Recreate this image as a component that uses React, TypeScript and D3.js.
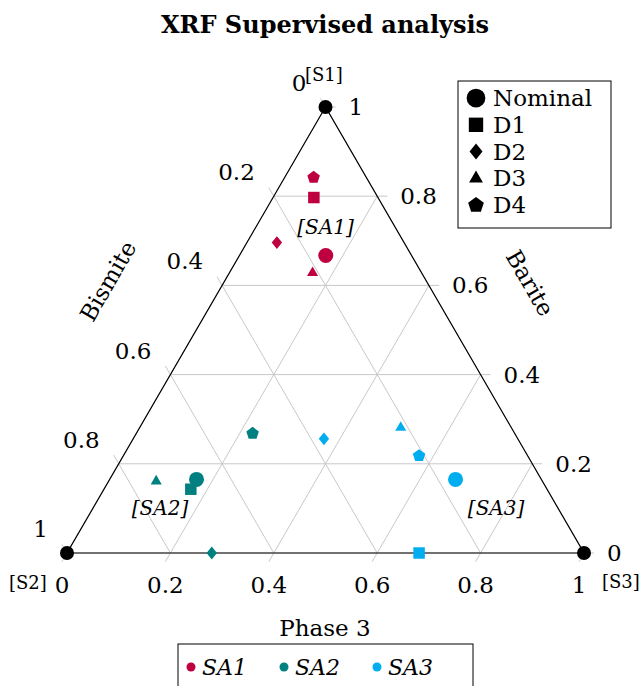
import React from "react";
import * as d3 from "d3";

const W = 644;
const H = 686;

// Samples and their colours
const sampleLabels = ["SA1", "SA2", "SA3"];
const sampleColors = ["#BF0040", "#008080", "#00AEEF"];

// Variants: Nominal, D1, D2, D3, D4
const variantLabels = ["Nominal", "D1", "D2", "D3", "D4"];

// Composition fractions per variant (Nominal, D1, D2, D3, D4)
const sa1Barite = [0.667, 0.797, 0.696, 0.628, 0.842];
const sa1Bismite = [0.166, 0.124, 0.246, 0.211, 0.102];
const sa1Phase3 = [0.167, 0.079, 0.058, 0.161, 0.056];

const sa2Barite = [0.165, 0.143, 0.0, 0.161, 0.268];
const sa2Bismite = [0.667, 0.689, 0.72, 0.747, 0.507];
const sa2Phase3 = [0.168, 0.168, 0.28, 0.092, 0.225];

const sa3Barite = [0.165, 0.0, 0.256, 0.281, 0.218];
const sa3Bismite = [0.166, 0.319, 0.375, 0.214, 0.21];
const sa3Phase3 = [0.669, 0.681, 0.369, 0.505, 0.572];

// Region labels, placed by composition (barite, bismite, phase 3)
const regionText = ["[SA1]", "[SA2]", "[SA3]"];
const regionBarite = [0.73, 0.1, 0.1];
const regionBismite = [0.135, 0.77, 0.12];
const regionPhase3 = [0.135, 0.13, 0.78];

const tickValues = [0, 0.2, 0.4, 0.6, 0.8, 1];
const tickLabels = ["0", "0.2", "0.4", "0.6", "0.8", "1"];

const FONT = "'DejaVu Serif', serif";
const GRID = "#c8c8c8";

const xScale = d3.scaleLinear().domain([0, 1]).range([67, 584]);
const yScale = d3.scaleLinear().domain([0, 1]).range([553, 107]);

function project(barite: number, bismite: number, phase3: number): [number, number] {
  const s = barite + bismite + phase3;
  const a = barite / s;
  const c = phase3 / s;
  return [xScale(c + a / 2), yScale(a)];
}

function markerPath(kind: number, scale: number): string {
  if (kind === 0) {
    const r = 7.5 * scale;
    return d3.symbol(d3.symbolCircle, Math.PI * r * r)() as string;
  }
  if (kind === 1) {
    const s = 11.5 * scale;
    return d3.symbol(d3.symbolSquare, s * s)() as string;
  }
  if (kind === 2) {
    const w = 5.2 * scale;
    const h = 6.4 * scale;
    return `M0,${-h}L${w},0L0,${h}L${-w},0Z`;
  }
  if (kind === 3) {
    const r = 6.4 * scale;
    return d3.line()([
      [0, -r],
      [r * 0.866, r * 0.5],
      [-r * 0.866, r * 0.5],
    ]) + "Z";
  }
  const r = 6.6 * scale;
  const pts: [number, number][] = d3.range(5).map((k) => {
    const ang = (-90 + 72 * k) * (Math.PI / 180);
    return [r * Math.cos(ang), r * Math.sin(ang)];
  });
  return d3.line()(pts) + "Z";
}

const TICK = 10;

export default function App() {
  const series = [
    { b: sa1Barite, m: sa1Bismite, p: sa1Phase3 },
    { b: sa2Barite, m: sa2Bismite, p: sa2Phase3 },
    { b: sa3Barite, m: sa3Bismite, p: sa3Phase3 },
  ];

  const top = project(1, 0, 0);
  const bl = project(0, 1, 0);
  const br = project(0, 0, 1);

  const lines: JSX.Element[] = [];
  tickValues.forEach((v, i) => {
    // Barite = v : horizontal, tick to the right
    {
      const [x1, y1] = project(v, 1 - v, 0);
      const [x2, y2] = project(v, 0, 1 - v);
      lines.push(
        <line key={`ba${i}`} x1={x1} y1={y1} x2={x2 + TICK} y2={y2} stroke={GRID} strokeWidth={1} />
      );
    }
    // Phase 3 = v : parallel to left edge, tick down-left at the bottom
    {
      const [x1, y1] = project(0, 1 - v, v);
      const [x2, y2] = project(1 - v, 0, v);
      lines.push(
        <line key={`ph${i}`} x1={x1 - TICK * 0.5} y1={y1 + TICK * 0.866} x2={x2} y2={y2} stroke={GRID} strokeWidth={1} />
      );
    }
    // Bismite = v : parallel to right edge, tick up-left on the left edge
    {
      const [x1, y1] = project(1 - v, v, 0);
      const [x2, y2] = project(0, v, 1 - v);
      lines.push(
        <line key={`bi${i}`} x1={x1 - TICK * 0.5} y1={y1 - TICK * 0.866} x2={x2} y2={y2} stroke={GRID} strokeWidth={1} />
      );
    }
  });

  return (
    <svg width={W} height={H} style={{ display: "block", position: "absolute", left: 0, top: 0 }} fontFamily={FONT}>
      <rect x={0} y={0} width={W} height={H} fill="#ffffff" />
      <text x={325} y={33} textAnchor="middle" fontSize={24} fontWeight="bold">
        XRF Supervised analysis
      </text>

      {lines}

      <path
        d={`M${top[0]},${top[1]}L${bl[0]},${bl[1]}L${br[0]},${br[1]}Z`}
        fill="none"
        stroke="#000"
        strokeWidth={1.2}
      />

      {/* tick labels */}
      {tickValues.map((v, i) => {
        const [bx, by] = project(0, 1 - v, v);
        const [rx, ry] = project(v, 0, 1 - v);
        const [lx, ly] = project(1 - v, v, 0);
        return (
          <g key={`tl${i}`} fontSize={23}>
            <text x={bx - 5} y={by + 32} textAnchor="middle" dominantBaseline="central">
              {tickLabels[i]}
            </text>
            <text x={rx + 23} y={ry} textAnchor="start" dominantBaseline="central">
              {tickLabels[i]}
            </text>
            <text x={lx - 19} y={ly - 24} textAnchor="end" dominantBaseline="central">
              {tickLabels[i]}
            </text>
          </g>
        );
      })}

      {/* vertex labels */}
      <g fontSize={18}>
        <text x={305} y={74} dominantBaseline="central">[S1]</text>
        <text x={9} y={582} dominantBaseline="central">[S2]</text>
        <text x={602} y={581} dominantBaseline="central">[S3]</text>
      </g>

      {/* vertex dots */}
      {[top, bl, br].map((p, i) => (
        <circle key={`v${i}`} cx={p[0]} cy={p[1]} r={7} fill="#000" />
      ))}

      {/* axis titles */}
      <text x={325} y={636} textAnchor="middle" fontSize={23}>
        Phase 3
      </text>
      <text
        transform={`translate(108,281) rotate(-60)`}
        textAnchor="middle"
        dominantBaseline="central"
        fontSize={23}
      >
        Bismite
      </text>
      <text
        transform={`translate(530,283) rotate(60)`}
        textAnchor="middle"
        dominantBaseline="central"
        fontSize={23}
      >
        Barite
      </text>

      {/* region labels */}
      {regionText.map((t, i) => {
        const [x, y] = project(regionBarite[i], regionBismite[i], regionPhase3[i]);
        return (
          <text key={`rt${i}`} x={x} y={y} textAnchor="middle" dominantBaseline="central" fontSize={20} fontStyle="italic">
            {t}
          </text>
        );
      })}

      {/* data points */}
      {series.map((s, si) =>
        s.b.map((bv, k) => {
          const [x, y] = project(bv, s.m[k], s.p[k]);
          return (
            <path
              key={`pt${si}-${k}`}
              d={markerPath(k, 1)}
              transform={`translate(${x},${y})`}
              fill={sampleColors[si]}
            />
          );
        })
      )}

      {/* marker legend */}
      <rect x={458} y={81} width={153} height={147} fill="#fff" stroke="#000" strokeWidth={1} />
      {variantLabels.map((lab, k) => {
        const y = 98 + k * 26.8;
        return (
          <g key={`lg${k}`}>
            <path d={markerPath(k, 1.25)} transform={`translate(476,${y})`} fill="#000" />
            <text x={493} y={y} dominantBaseline="central" fontSize={23}>
              {lab}
            </text>
          </g>
        );
      })}

      {/* sample legend */}
      <rect x={178} y={644} width={295} height={60} fill="#fff" stroke="#000" strokeWidth={1} />
      {sampleLabels.map((lab, i) => {
        const x0 = 191 + i * 93;
        return (
          <g key={`sl${i}`}>
            <circle cx={x0} cy={667} r={4.5} fill={sampleColors[i]} />
            <text x={x0 + 11} y={667} dominantBaseline="central" fontSize={22} fontStyle="italic">
              {lab}
            </text>
          </g>
        );
      })}
    </svg>
  );
}
